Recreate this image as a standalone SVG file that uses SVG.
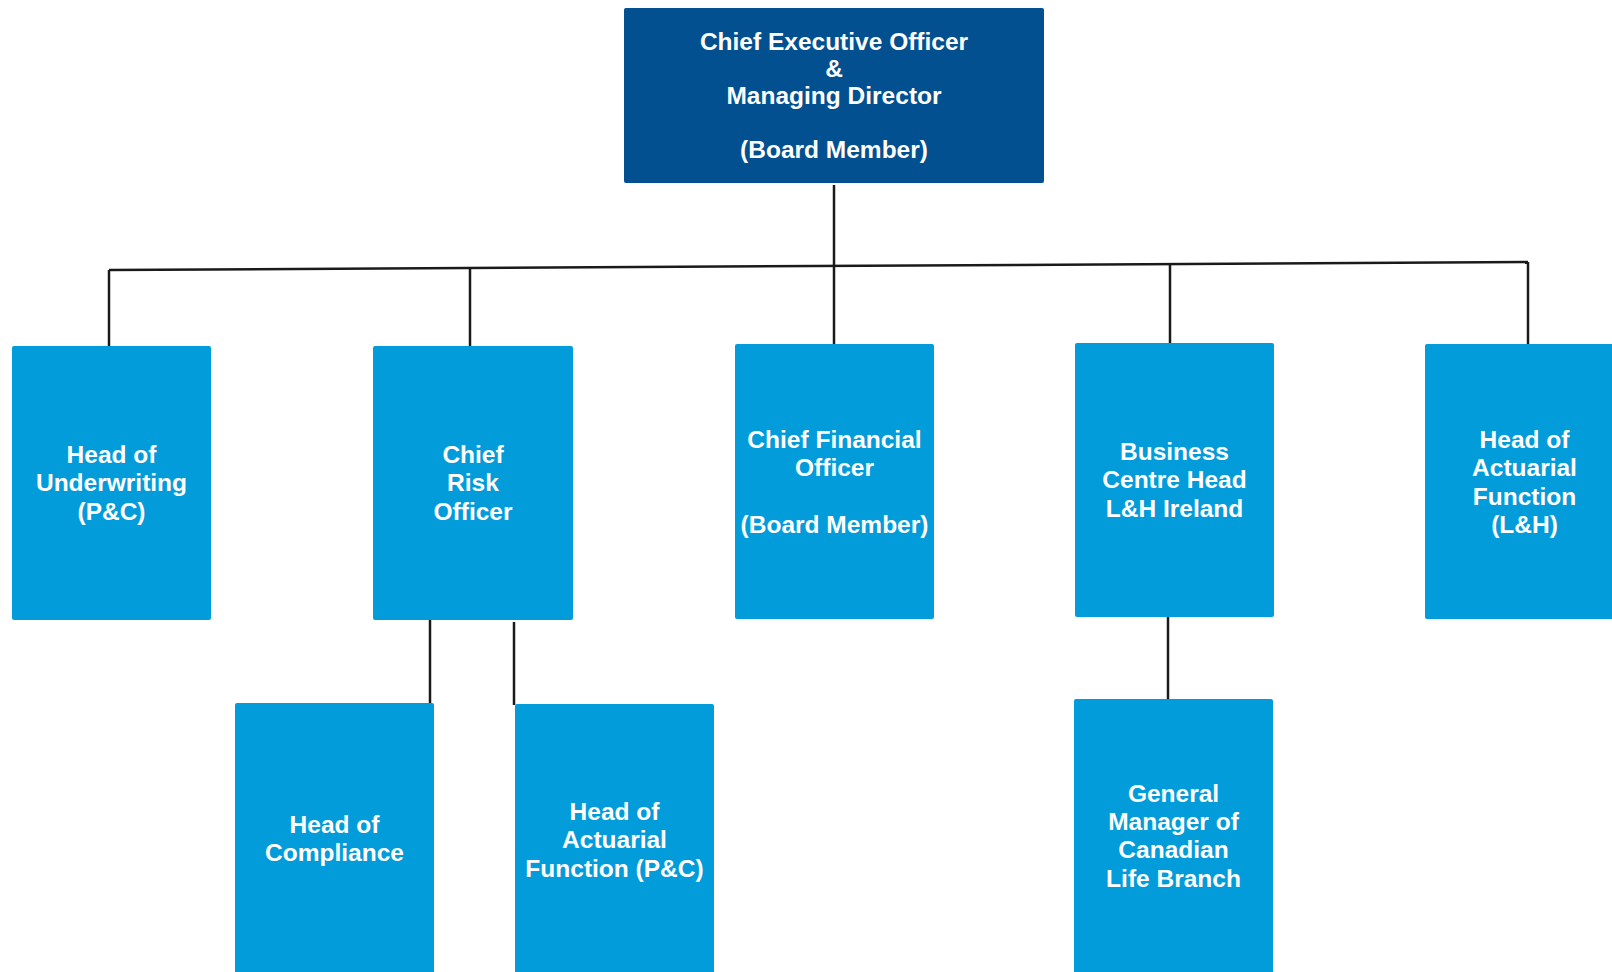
<svg xmlns="http://www.w3.org/2000/svg" width="1612" height="972" viewBox="0 0 1612 972">
<style>
.ceo{fill:#02508f}
.box{fill:#029cdb}
.t{font-family:"Liberation Sans",Arial,sans-serif;font-weight:bold;font-size:24.5px;fill:#ffffff;text-anchor:middle}
.c{stroke:#1a1a1a;stroke-width:2.5;fill:none}
</style>
<rect width="1612" height="972" fill="#ffffff"/>
<g id="connectors">
<line class="c" x1="109" y1="270" x2="1528" y2="262"/>
<line class="c" x1="834" y1="185" x2="834" y2="344"/>
<line class="c" x1="109" y1="270" x2="109" y2="350"/>
<line class="c" x1="470" y1="268" x2="470" y2="346"/>
<line class="c" x1="1170" y1="264" x2="1170" y2="343"/>
<line class="c" x1="1528" y1="262" x2="1528" y2="344"/>
<line class="c" x1="430" y1="620" x2="430" y2="703"/>
<line class="c" x1="514" y1="622" x2="514" y2="705"/>
<line class="c" x1="1168" y1="617" x2="1168" y2="699"/>
</g>
<g id="ceo">
<rect class="ceo" x="624" y="8" width="420" height="175" rx="2"/>
<text class="t" x="834" y="50">Chief Executive Officer</text>
<text class="t" x="834" y="77">&amp;</text>
<text class="t" x="834" y="104">Managing Director</text>
<text class="t" x="834" y="158">(Board Member)</text>
</g>
<g id="head-underwriting">
<rect class="box" x="12" y="346" width="199" height="274" rx="2"/>
<text class="t" x="111.5" y="463">Head of</text>
<text class="t" x="111.5" y="491">Underwriting</text>
<text class="t" x="111.5" y="520">(P&amp;C)</text>
</g>
<g id="cro">
<rect class="box" x="373" y="346" width="200" height="274" rx="2"/>
<text class="t" x="473" y="463">Chief</text>
<text class="t" x="473" y="491">Risk</text>
<text class="t" x="473" y="520">Officer</text>
</g>
<g id="cfo">
<rect class="box" x="735" y="344" width="199" height="275" rx="2"/>
<text class="t" x="834.5" y="448">Chief Financial</text>
<text class="t" x="834.5" y="476">Officer</text>
<text class="t" x="834.5" y="533">(Board Member)</text>
</g>
<g id="business-centre">
<rect class="box" x="1075" y="343" width="199" height="274" rx="2"/>
<text class="t" x="1174.5" y="460">Business</text>
<text class="t" x="1174.5" y="488">Centre Head</text>
<text class="t" x="1174.5" y="517">L&amp;H Ireland</text>
</g>
<g id="head-actuarial-lh">
<rect class="box" x="1425" y="344" width="199" height="275" rx="2"/>
<text class="t" x="1524.5" y="448">Head of</text>
<text class="t" x="1524.5" y="476">Actuarial</text>
<text class="t" x="1524.5" y="505">Function</text>
<text class="t" x="1524.5" y="533">(L&amp;H)</text>
</g>
<g id="head-compliance">
<rect class="box" x="235" y="703" width="199" height="280" rx="2"/>
<text class="t" x="334.5" y="833">Head of</text>
<text class="t" x="334.5" y="861">Compliance</text>
</g>
<g id="head-actuarial-pc">
<rect class="box" x="515" y="704" width="199" height="280" rx="2"/>
<text class="t" x="614.5" y="820">Head of</text>
<text class="t" x="614.5" y="848">Actuarial</text>
<text class="t" x="614.5" y="877">Function (P&amp;C)</text>
</g>
<g id="gm-canadian">
<rect class="box" x="1074" y="699" width="199" height="285" rx="2"/>
<text class="t" x="1173.5" y="802">General</text>
<text class="t" x="1173.5" y="830">Manager of</text>
<text class="t" x="1173.5" y="858">Canadian</text>
<text class="t" x="1173.5" y="887">Life Branch</text>
</g>
</svg>
